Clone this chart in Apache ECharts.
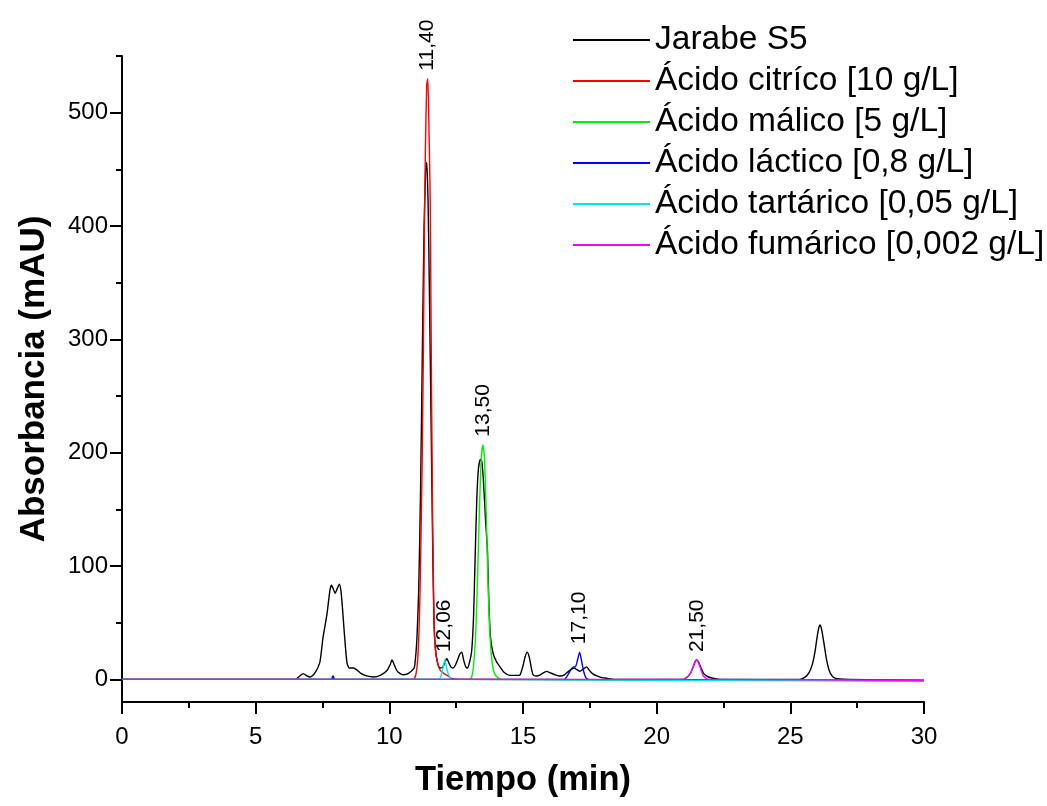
<!DOCTYPE html>
<html>
<head>
<meta charset="utf-8">
<script src="https://cdn.jsdelivr.net/npm/echarts@6/dist/echarts.min.js"></script>
<style>
html,body{margin:0;padding:0;background:#fff;}
#chart{width:1047px;height:806px;}
</style>
</head>
<body>
<div id="chart"></div>
<script>
// ---- Data ----
const seriesNames = ['Jarabe S5', 'Ácido citríco [10 g/L]', 'Ácido málico [5 g/L]', 'Ácido láctico [0,8 g/L]', 'Ácido tartárico [0,05 g/L]', 'Ácido fumárico [0,002 g/L]'];

const jarabeT = [0, 1.1, 1.7, 6.5, 6.65, 6.78, 6.92, 7.03, 7.2, 7.4, 7.52, 7.67, 7.78, 7.84, 7.9, 7.97, 8.05, 8.13, 8.19, 8.25, 8.3, 8.36, 8.42, 8.5, 8.65, 8.8, 8.95, 9.15, 9.4, 9.7, 9.92, 10.03, 10.1, 10.18, 10.3, 10.5, 10.7, 10.9, 10.95, 11.03, 11.1, 11.17, 11.23, 11.3, 11.36, 11.4, 11.45, 11.5, 11.56, 11.62, 11.67, 11.73, 11.8, 11.9, 12.0, 12.08, 12.15, 12.22, 12.3, 12.38, 12.46, 12.55, 12.63, 12.71, 12.78, 12.86, 12.93, 13.0, 13.08, 13.15, 13.2, 13.27, 13.33, 13.4, 13.46, 13.52, 13.6, 13.67, 13.72, 13.78, 13.88, 14.0, 14.14, 14.3, 14.5, 14.75, 14.89, 15.0, 15.08, 15.16, 15.24, 15.32, 15.38, 15.5, 15.65, 15.78, 15.89, 16.0, 16.2, 16.39, 16.55, 16.7, 16.82, 16.91, 17.02, 17.13, 17.25, 17.38, 17.48, 17.6, 17.76, 17.95, 18.13, 18.4, 21.0, 21.15, 21.28, 21.38, 21.45, 21.5, 21.57, 21.66, 21.76, 21.9, 22.1, 22.37, 25.36, 25.55, 25.7, 25.82, 25.92, 26.0, 26.06, 26.11, 26.17, 26.25, 26.35, 26.45, 26.56, 26.67, 26.85, 27.2, 30];
const jarabeY = [0, 0, 0, 0, 3, 5, 3, 2, 5, 15, 37, 58, 79, 83, 80, 76, 80, 84, 78, 62, 46, 28, 14, 10, 10, 8, 5, 3, 2, 4, 8, 13, 17, 13, 7, 4, 5, 9, 12, 35, 80, 170, 280, 400, 450, 456, 420, 340, 230, 120, 50, 25, 15, 10, 11, 15, 18.5, 15, 11, 10, 12, 17, 22, 24, 17, 11, 10, 15, 25, 55, 99, 158, 185, 194, 192, 175, 140, 114, 70, 38, 23, 16, 11, 6, 3.5, 3.5, 4, 12, 20, 24, 19, 9, 4, 3, 4, 6, 7, 6, 4, 3, 4, 7, 9, 10, 8.5, 7, 9, 11, 8, 5, 3, 1.5, 1, 0, 0, 2, 6, 12, 16, 17, 15, 10, 5, 2.5, 1, 0, 0, 2, 6, 13, 24, 37, 45, 48, 44, 33, 18, 8, 3, 1, 0.3, 0, -1];

const citricT = [0, 10.9, 11.0, 11.08, 11.15, 11.22, 11.27, 11.31, 11.35, 11.4, 11.44, 11.48, 11.53, 11.58, 11.62, 11.67, 11.72, 11.8, 11.9, 12.05, 12.2, 12.3, 12.6, 30];
const citricY = [0, 0, 5, 25, 80, 180, 280, 390, 470, 525, 530, 490, 420, 250, 140, 55, 28, 15, 8, 5, 3, 1, 0, -1];

const malicT = [0, 7.8, 7.88, 7.95, 13.0, 13.08, 13.15, 13.23, 13.3, 13.37, 13.44, 13.5, 13.56, 13.62, 13.68, 13.75, 13.83, 13.92, 14.05, 14.2, 30];
const malicY = [0, 0, 3, 0, 0, 2, 12, 40, 90, 150, 195, 207, 195, 150, 95, 45, 18, 6, 1.5, 0, -1];

const lacticT = [0, 7.85, 7.9, 7.95, 16.55, 16.68, 16.8, 16.88, 16.96, 17.04, 17.12, 17.2, 17.28, 17.36, 17.45, 30];
const lacticY = [0, 0, 3, 0, 0, 4, 9, 11, 11, 17, 24, 15, 6, 1, 0, -1];

const tartaricT = [0, 11.85, 11.95, 12.02, 12.07, 12.13, 12.2, 12.28, 12.35, 30];
const tartaricY = [0, 0, 4, 12, 17, 12, 5, 1, 0, -1.5];

const fumaricT = [0, 21.0, 21.15, 21.28, 21.38, 21.45, 21.5, 21.56, 21.65, 21.75, 21.88, 22.0, 30];
const fumaricY = [0, 0, 2, 6, 12, 16, 17, 15, 9, 3, 0.5, 0, -1];

const peakT = [11.40, 12.06, 13.50, 17.10, 21.50];
const peakY = [530, 17, 207, 24, 17];
const peakText = ['11,40', '12,06', '13,50', '17,10', '21,50'];

const yMajorTicks = [0, 100, 200, 300, 400, 500];
const yMinorTicks = [50, 150, 250, 350, 450, 550];

// ---- Build chart ----
const colors = ['#000000', '#ff0000', '#00ee00', '#0000ff', '#00e5ee', '#ff00ff'];
const tArrays = [jarabeT, citricT, malicT, lacticT, tartaricT, fumaricT];
const yArrays = [jarabeY, citricY, malicY, lacticY, tartaricY, fumaricY];
const zip = (t, y) => t.map((v, i) => [v, y[i]]);

const FONT = 'Liberation Sans, Arial, sans-serif';

const lineSeries = seriesNames.map((name, i) => ({
  name: name,
  type: 'line',
  data: zip(tArrays[i], yArrays[i]),
  showSymbol: false,
  symbol: 'none',
  smooth: 0.2,
  lineStyle: { color: colors[i], width: 1.4 },
  itemStyle: { color: colors[i] },
  silent: true,
  animation: false,
  z: 2 + i
}));

const peakSeries = {
  name: 'peaks',
  type: 'scatter',
  data: zip(peakT, peakY),
  symbolSize: 0,
  itemStyle: { color: '#000000' },
  silent: true,
  animation: false,
  z: 20,
  label: {
    show: true,
    position: 'top',
    distance: 8,
    rotate: 90,
    align: 'left',
    verticalAlign: 'middle',
    fontFamily: FONT,
    fontSize: 21,
    color: '#000000',
    opacity: 1,
    formatter: p => peakText[p.dataIndex]
  }
};

const chart = echarts.init(document.getElementById('chart'), null, { renderer: 'canvas' });
chart.setOption({
  backgroundColor: '#ffffff',
  animation: false,
  textStyle: { fontFamily: FONT },
  grid: { left: 122, right: 123, top: 56, bottom: 104, containLabel: false },
  legend: {
    data: seriesNames,
    orient: 'vertical',
    left: 568,
    top: 18,
    icon: 'rect',
    itemWidth: 77,
    itemHeight: 2,
    itemGap: 7,
    selectedMode: false,
    textStyle: { fontFamily: FONT, fontSize: 33.5, color: '#000', lineHeight: 34, padding: [0, 0, 0, 0] }
  },
  xAxis: {
    type: 'value',
    min: 0,
    max: 30,
    interval: 5,
    name: 'Tiempo (min)',
    nameLocation: 'middle',
    nameGap: 61,
    nameTextStyle: { fontFamily: FONT, fontSize: 34.5, fontWeight: 'bold', color: '#000' },
    axisLine: { show: true, onZero: false, lineStyle: { color: '#000', width: 2 } },
    axisTick: { show: true, inside: false, length: 12, lineStyle: { color: '#000', width: 2 } },
    minorTick: { show: true, splitNumber: 2, length: 6, lineStyle: { color: '#000', width: 2 } },
    axisLabel: { show: true, margin: 23, fontFamily: FONT, fontSize: 24, color: '#000' },
    splitLine: { show: false },
    minorSplitLine: { show: false }
  },
  yAxis: [{
    type: 'value',
    position: 'left',
    min: -20,
    max: 550,
    name: 'Absorbancia (mAU)',
    nameLocation: 'middle',
    nameGap: 70,
    nameTextStyle: { fontFamily: FONT, fontSize: 35, fontWeight: 'bold', color: '#000' },
    axisLine: { show: true, onZero: false, lineStyle: { color: '#000', width: 2 } },
    axisTick: { show: true, inside: false, length: 12, customValues: yMajorTicks, lineStyle: { color: '#000', width: 2 } },
    axisLabel: { show: true, margin: 14, customValues: yMajorTicks, fontFamily: FONT, fontSize: 24, color: '#000' },
    splitLine: { show: false }
  }, {
    type: 'value',
    position: 'left',
    offset: 0,
    min: -20,
    max: 550,
    axisLine: { show: false },
    axisTick: { show: true, inside: false, length: 6, customValues: yMinorTicks, lineStyle: { color: '#000', width: 2 } },
    axisLabel: { show: false },
    splitLine: { show: false }
  }],
  series: lineSeries.concat([peakSeries])
});
</script>
</body>
</html>
